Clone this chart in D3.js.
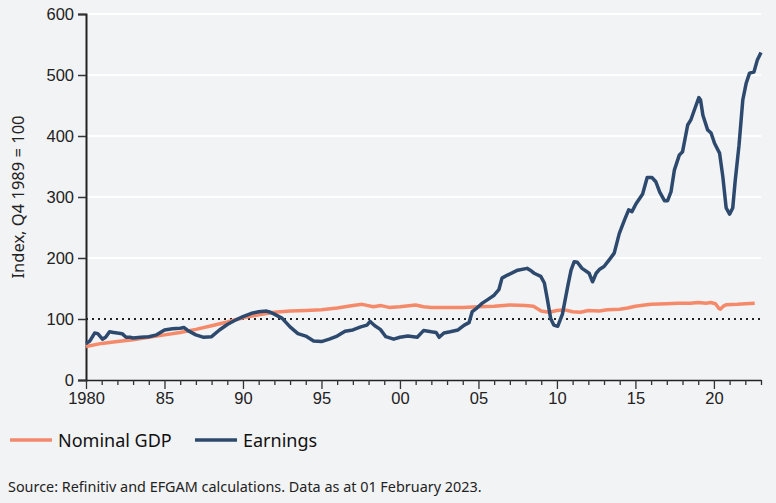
<!DOCTYPE html>
<html>
<head>
<meta charset="utf-8">
<script src="https://cdn.jsdelivr.net/npm/d3@7"></script>
<style>
  body { margin: 0; background: #f2f3f5; }
  svg { display: block; font-family: "Noto Sans", sans-serif; }
  .tick text { fill: #222; }
</style>
</head>
<body>
<div id="chart"></div>
<script>
// Nominal GDP, index Q4 1989 = 100
const gdpYears = [1980, 1981, 1982, 1983, 1984, 1985, 1986, 1987, 1988, 1989, 1990, 1991, 1992, 1993, 1994, 1995,
  1996, 1997, 1997.6, 1998.3, 1998.8, 1999.3, 2000, 2001, 2001.5, 2002, 2003, 2004, 2005, 2006, 2007, 2008,
  2008.5, 2009, 2009.5, 2010, 2010.5, 2011, 2011.5, 2012, 2012.7, 2013.2, 2014, 2014.5, 2015, 2015.6, 2016,
  2017, 2017.7, 2018.5, 2019, 2019.5, 2019.8, 2020.1, 2020.3, 2020.4, 2020.6, 2020.8, 2021.5, 2022, 2022.6];
const gdpValues = [55, 60, 63, 66, 70, 74, 78, 83, 89, 95, 102, 107, 111, 113, 114, 115,
  118, 122, 124, 120, 122, 119, 120, 123, 120, 119, 119, 119, 120, 121, 123, 122,
  121, 113, 111, 114, 115, 112, 111, 114, 113, 115, 116, 118, 121, 123, 124,
  125, 126, 126, 127, 126, 127, 125, 118, 116, 121, 123.5, 124, 125, 126];

// Earnings, index Q4 1989 = 100
const earnYears = [1980, 1980.25, 1980.55, 1980.75, 1981.05, 1981.25, 1981.5, 1981.75, 1982, 1982.3, 1982.55, 1982.8,
  1983, 1983.5, 1984, 1984.5, 1985, 1985.5, 1986, 1986.25, 1986.5, 1987, 1987.5, 1988, 1988.5, 1989, 1989.5,
  1990, 1990.5, 1991, 1991.5, 1991.75, 1992, 1992.5, 1993, 1993.5, 1994, 1994.5, 1995, 1995.5, 1996, 1996.5,
  1997, 1997.5, 1997.9, 1998.1, 1998.4, 1998.75, 1999.1, 1999.6, 2000, 2000.5, 2001.1, 2001.5, 2002, 2002.3,
  2002.5, 2002.8, 2003.2, 2003.7, 2004.1, 2004.4, 2004.6, 2004.9, 2005.25, 2005.66, 2006, 2006.3, 2006.5,
  2006.85, 2007.5, 2008.1, 2008.3, 2008.55, 2008.97, 2009.2, 2009.4, 2009.6, 2009.8, 2010.05, 2010.35, 2010.7,
  2010.9, 2011.1, 2011.3, 2011.6, 2012.05, 2012.27, 2012.5, 2012.7, 2013, 2013.33, 2013.65, 2013.97, 2014.3,
  2014.57, 2014.78, 2015.04, 2015.46, 2015.75, 2016.05, 2016.3, 2016.55, 2016.85, 2017.05, 2017.27, 2017.48,
  2017.8, 2018, 2018.33, 2018.54, 2018.76, 2019.04, 2019.15, 2019.3, 2019.6, 2019.82, 2020.04, 2020.36, 2020.57,
  2020.78, 2021, 2021.2, 2021.35, 2021.6, 2021.84, 2022.05, 2022.27, 2022.55, 2022.76, 2023];
const earnValues = [60, 64, 77, 76, 67, 70, 79, 78, 77, 76, 70, 70,
  69, 70, 71, 74, 82, 84, 85, 86, 81, 74, 70, 71, 82, 91, 98,
  104, 109, 112, 113, 111, 108, 101, 87, 76, 72, 64, 63, 67, 72, 80,
  82, 87, 90, 96, 89, 83, 71, 67, 70, 72, 70, 81, 79, 78,
  70, 77, 79, 82, 90, 94, 112, 118, 126, 133, 139, 148, 167,
  172, 180, 183, 180, 175, 170, 159, 131, 101, 90, 88, 108, 155,
  180, 194, 193, 183, 175, 161, 175, 181, 186, 197, 208, 240, 262,
  279, 276, 289, 305, 332, 332, 325, 308, 294, 294, 309, 344,
  369, 374, 418, 427, 443, 463, 459, 434, 410, 405, 388, 372, 333,
  282, 272, 282, 325, 385, 459, 486, 503, 505, 524, 537];

const yTicks = [0, 100, 200, 300, 400, 500, 600];
const seriesNames = ["Nominal GDP", "Earnings"];
const seriesColors = ["#f58a6b", "#2d4a6e"];

const svgWidth = 776, svgHeight = 503;
const margin = {top: 14, right: 15, bottom: 123, left: 86};
const width = svgWidth - margin.left - margin.right;
const height = svgHeight - margin.top - margin.bottom;

const x = d3.scaleLinear().domain([1980, 2023]).range([0, width]);
const y = d3.scaleLinear().domain([0, 600]).range([height, 0]);

let svg = d3.select("#chart").append("svg")
    .attr("width", svgWidth)
    .attr("height", svgHeight);

svg.append("rect")
    .attr("width", svgWidth)
    .attr("height", svgHeight)
    .attr("fill", "#f2f3f5");

const g = svg.append("g")
    .attr("transform", "translate(" + margin.left + "," + margin.top + ")");

// white gridlines
g.selectAll(".grid")
    .data(yTicks.filter(d => d > 100))
    .enter().append("line")
    .attr("x1", 0)
    .attr("x2", width)
    .attr("y1", d => y(d))
    .attr("y2", d => y(d))
    .attr("stroke", "#ffffff")
    .attr("stroke-width", 2);

// dotted reference at 100
g.append("line")
    .attr("x1", 0)
    .attr("x2", width)
    .attr("y1", y(100))
    .attr("y2", y(100))
    .attr("stroke", "#222")
    .attr("stroke-width", 2)
    .attr("stroke-dasharray", "2,4");

// y axis
g.append("g")
    .call(d3.axisLeft(y).tickValues(yTicks).tickSize(8).tickPadding(4))
    .call(a => a.select(".domain").attr("stroke", "#222").attr("stroke-width", 2))
    .call(a => a.selectAll(".tick line").attr("stroke", "#333").attr("stroke-width", 1.5))
    .call(a => a.selectAll(".tick text").style("font-size", "16.5px"));

// x axis: yearly minor ticks, longer ticks every 5 years
const years = d3.range(1980, 2024);
g.append("g")
    .attr("transform", "translate(0," + height + ")")
    .call(d3.axisBottom(x).tickValues(years).tickSize(5).tickPadding(8)
        .tickSizeOuter(0)
        .tickFormat(d => d % 5 ? "" : (d === 1980 ? "1980" : String(d % 100).padStart(2, "0"))))
    .call(a => a.select(".domain").attr("stroke", "#222").attr("stroke-width", 1.5))
    .call(a => a.selectAll(".tick line").attr("stroke", "#333").attr("stroke-width", 1.3)
        .attr("y2", d => d % 5 ? 5 : 9))
    .call(a => a.selectAll(".tick text").style("font-size", "16.5px").attr("y", 12));

const line = d3.line()
    .x(d => x(d[0]))
    .y(d => y(d[1]));

const gdpData = d3.zip(gdpYears, gdpValues);
const earnData = d3.zip(earnYears, earnValues);

g.append("path")
    .datum(gdpData)
    .attr("fill", "none")
    .attr("stroke", seriesColors[0])
    .attr("stroke-width", 3.5)
    .attr("stroke-linejoin", "round")
    .attr("d", line);

g.append("path")
    .datum(earnData)
    .attr("fill", "none")
    .attr("stroke", seriesColors[1])
    .attr("stroke-width", 3.5)
    .attr("stroke-linejoin", "round")
    .attr("d", line);

// y axis title
svg.append("text")
    .attr("transform", "translate(24,197) rotate(-90)")
    .attr("text-anchor", "middle")
    .attr("fill", "#222")
    .style("font-size", "16.5px")
    .text("Index, Q4 1989 = 100");

// legend
const legendX = [10, 195];
const legend = svg.selectAll(".legend")
    .data(seriesNames)
    .enter().append("g")
    .attr("transform", (d, i) => "translate(" + legendX[i] + ",440)");

legend.append("line")
    .attr("x1", 0)
    .attr("x2", 42)
    .attr("stroke", (d, i) => seriesColors[i])
    .attr("stroke-width", 3.5);

legend.append("text")
    .attr("x", 48)
    .attr("y", 7)
    .attr("fill", "#111")
    .style("font-size", "18px")
    .text(d => d);

// source note
svg.append("text")
    .attr("x", 8)
    .attr("y", 492)
    .attr("fill", "#222")
    .style("font-size", "14.4px")
    .text("Source: Refinitiv and EFGAM calculations. Data as at 01 February 2023.");
</script>
</body>
</html>
